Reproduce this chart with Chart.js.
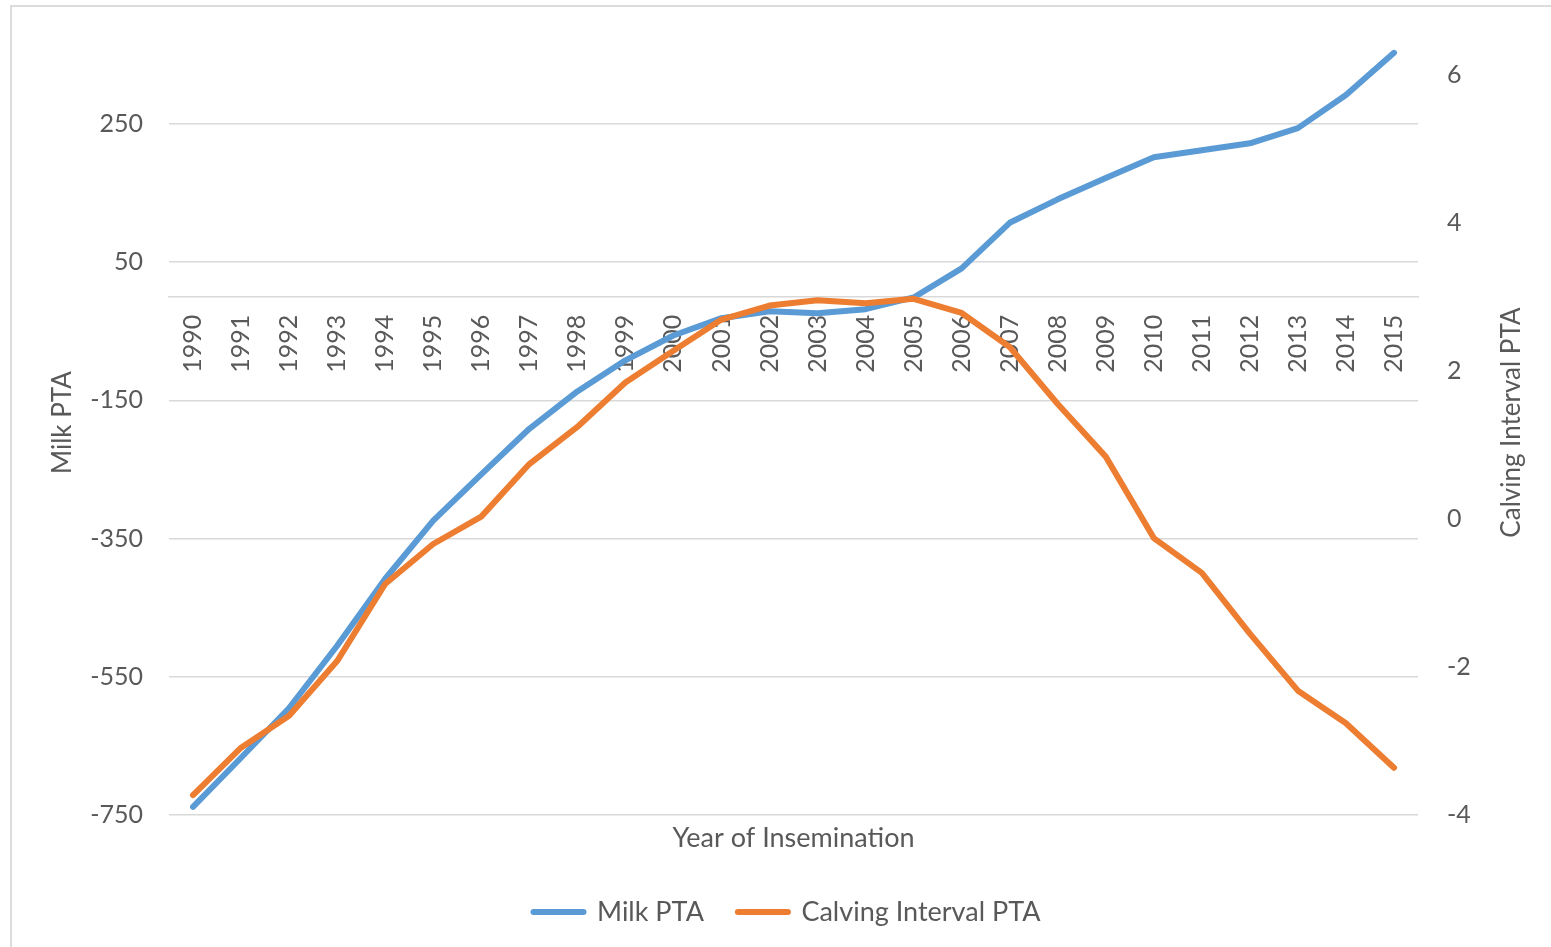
<!DOCTYPE html>
<html lang="en">
<head>
    <meta charset="UTF-8">
    <meta name="viewport" content="width=device-width, initial-scale=1.0">
    <title>Milk PTA and Calving Interval PTA by Year of Insemination</title>
    <script src="https://cdn.jsdelivr.net/npm/chart.js"></script>
    <style>
        html, body {
            margin: 0;
            padding: 0;
            background-color: #ffffff;
            overflow: hidden;
        }
        /* light frame round the chart, its right and bottom edges fall outside the window */
        .frame {
            position: absolute;
            left: 10px;
            top: 5px;
            width: 1600px;
            height: 1000px;
            border: 2px solid #dcdcdc;
            box-sizing: border-box;
        }
        .chart-container {
            position: absolute;
            left: 0;
            top: 0;
            width: 1551px;
            height: 947px;
        }
    </style>
</head>
<body>
    <div class="frame"></div>
    <div class="chart-container">
        <canvas id="ptaChart"></canvas>
    </div>

    <script>
        // Data
        const years = ['1990', '1991', '1992', '1993', '1994', '1995', '1996', '1997', '1998', '1999',
                       '2000', '2001', '2002', '2003', '2004', '2005', '2006', '2007', '2008', '2009',
                       '2010', '2011', '2012', '2013', '2014', '2015'];

        const milkPTA = [-738, -667, -595, -505, -408, -324, -257, -191, -137, -92,
                         -56, -31, -21, -24, -18, -1, 41, 107, 141, 172,
                         202, 212, 222, 244, 292, 353];

        const calvingIntervalPTA = [-3.73, -3.09, -2.66, -1.92, -0.88, -0.34, 0.03, 0.74, 1.24, 1.84,
                                    2.27, 2.69, 2.88, 2.95, 2.91, 2.97, 2.78, 2.32, 1.55, 0.84,
                                    -0.26, -0.73, -1.55, -2.32, -2.76, -3.36];

        // Axis ticks and ranges
        const milkTicks = [-750, -550, -350, -150, 50, 250];
        const calvingTicks = [-4, -2, 0, 2, 4, 6];
        const milkRange = [-750, 386];
        const calvingRange = [-4, 6.6];

        const textColor = '#595959';
        const gridColor = '#d9d9d9';
        const blue = '#5B9BD5';
        const orange = '#ED7D31';
        const tickFont = { family: 'Lato', size: 25 };
        const axisTitleFont = { family: 'Lato', size: 26 };
        const xTitleFont = { family: 'Lato', size: 27 };
        const legendFont = { family: 'Lato', size: 27 };

        // Excel writes the secondary axis title reading upwards, Chart.js turns it the other way,
        // so it is drawn here next to the right axis instead
        const rightTitlePlugin = {
            id: 'rightTitle',
            afterDraw(chart) {
                const scale = chart.scales.y1;
                const area = chart.chartArea;
                const c = chart.ctx;
                c.save();
                c.translate(scale.right - 15, (area.top + area.bottom) / 2);
                c.rotate(-Math.PI / 2);
                c.fillStyle = textColor;
                c.font = axisTitleFont.size + 'px ' + axisTitleFont.family;
                c.textAlign = 'center';
                c.textBaseline = 'middle';
                c.fillText('Calving Interval PTA', 0, 0);
                c.restore();
            }
        };

        // fixed width for a value axis, and no extra room above / below for its end labels
        function fitValueAxis(width) {
            return (scale) => {
                scale.width = width;
                scale.paddingTop = 0;
                scale.paddingBottom = 0;
            };
        }

        const ctx = document.getElementById('ptaChart').getContext('2d');

        const ptaChart = new Chart(ctx, {
            type: 'line',
            data: {
                labels: years,
                datasets: [
                    {
                        label: 'Milk PTA',
                        data: milkPTA,
                        xAxisID: 'x',
                        yAxisID: 'y',
                        borderColor: blue,
                        backgroundColor: blue,
                        borderWidth: 6,
                        borderCapStyle: 'round',
                        borderJoinStyle: 'round',
                        pointRadius: 0,
                        pointHoverRadius: 0,
                        tension: 0,
                        order: 2
                    },
                    {
                        label: 'Calving Interval PTA',
                        data: calvingIntervalPTA,
                        xAxisID: 'x',
                        yAxisID: 'y1',
                        borderColor: orange,
                        backgroundColor: orange,
                        borderWidth: 6,
                        borderCapStyle: 'round',
                        borderJoinStyle: 'round',
                        pointRadius: 0,
                        pointHoverRadius: 0,
                        tension: 0,
                        order: 1 // orange is drawn over blue
                    }
                ]
            },
            options: {
                responsive: true,
                maintainAspectRatio: false,
                animation: false,
                layout: {
                    padding: { left: 47, right: 24, top: 30, bottom: 11.5 }
                },
                scales: {
                    // category axis crossing the left axis at 0
                    x: {
                        type: 'category',
                        position: { y: 0 },
                        offset: true,
                        grid: { display: false, drawTicks: false },
                        border: { display: true, color: gridColor, width: 1.5 },
                        ticks: {
                            autoSkip: false,
                            minRotation: 90,
                            maxRotation: 90,
                            padding: 18,
                            color: textColor,
                            font: tickFont
                        }
                    },
                    // only carries the axis title below the plot
                    xTitle: {
                        type: 'category',
                        axis: 'x',
                        position: 'bottom',
                        offset: true,
                        grid: { display: false, drawTicks: false },
                        border: { display: false },
                        ticks: { display: false },
                        title: {
                            display: true,
                            text: 'Year of Insemination',
                            color: textColor,
                            font: xTitleFont,
                            padding: { top: 7, bottom: 10 }
                        }
                    },
                    y: {
                        position: 'left',
                        min: milkRange[0],
                        max: milkRange[1],
                        afterBuildTicks: (scale) => {
                            scale.ticks = milkTicks.map(v => ({ value: v }));
                        },
                        afterFit: fitValueAxis(122),
                        grid: { color: gridColor, lineWidth: 1.5, drawTicks: false },
                        border: { display: false },
                        ticks: { padding: 26, color: textColor, font: tickFont },
                        title: {
                            display: true,
                            text: 'Milk PTA',
                            color: textColor,
                            font: axisTitleFont,
                            padding: 0
                        }
                    },
                    y1: {
                        position: 'right',
                        min: calvingRange[0],
                        max: calvingRange[1],
                        afterBuildTicks: (scale) => {
                            scale.ticks = calvingTicks.map(v => ({ value: v }));
                        },
                        afterFit: fitValueAxis(109),
                        grid: { display: false, drawTicks: false },
                        border: { display: false },
                        ticks: { padding: 29, color: textColor, font: tickFont },
                        title: { display: false }
                    }
                },
                plugins: {
                    legend: {
                        position: 'bottom',
                        labels: {
                            usePointStyle: true,
                            pointStyle: 'line',
                            pointStyleWidth: 50,
                            padding: 34,
                            color: textColor,
                            font: legendFont,
                            sort: (a, b) => a.datasetIndex - b.datasetIndex,
                            generateLabels: (chart) => {
                                const items = Chart.defaults.plugins.legend.labels.generateLabels(chart);
                                return items.map(item => {
                                    const ds = chart.data.datasets[item.datasetIndex];
                                    item.strokeStyle = ds.borderColor;
                                    item.fillStyle = ds.borderColor;
                                    item.lineWidth = 6;
                                    item.lineCap = 'round';
                                    return item;
                                });
                            }
                        }
                    },
                    tooltip: { enabled: false }
                }
            },
            plugins: [rightTitlePlugin]
        });
    </script>
</body>
</html>
